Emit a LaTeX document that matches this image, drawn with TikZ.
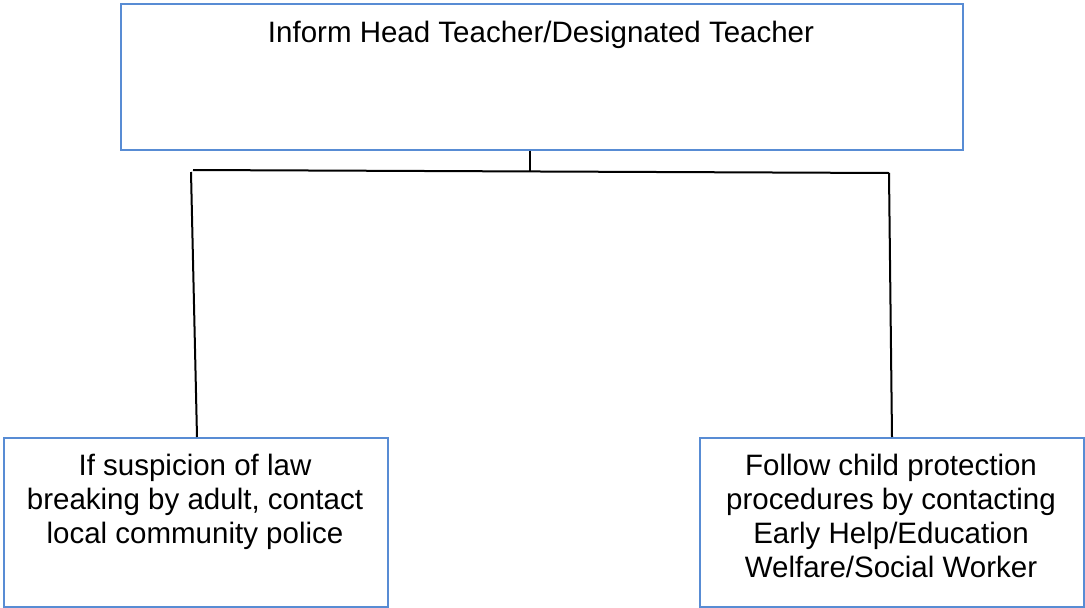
\documentclass[tikz,border=0pt]{standalone}
\usepackage{fontspec}
\setmainfont{Liberation Sans}
\definecolor{boxblue}{RGB}{88,140,212}
\begin{document}
\begin{tikzpicture}[x=1pt,y=-1pt,
  box/.style={draw=boxblue, line width=1.6pt, fill=none, inner sep=0pt, anchor=north west},
  txt/.style={inner sep=0pt, align=center, font=\fontsize{29.5}{34}\selectfont, anchor=base},
  conn/.style={draw=black, line width=2pt}]
\useasboundingbox (0,0) rectangle (1085,608);
\node[box, minimum width=842pt, minimum height=146pt] (top) at (120,3) {};
\node[box, minimum width=384pt, minimum height=169pt] (left) at (3,437) {};
\node[box, minimum width=384pt, minimum height=169pt] (right) at (699,437) {};
\node[txt] (toptext) at (541,42) {Inform Head Teacher/Designated Teacher};
\node[txt] (lefttext) at (195,543) {If suspicion of law\\breaking by adult, contact\\local community police};
\node[txt] (righttext) at (891,577) {Follow child protection\\procedures by contacting\\Early Help/Education\\Welfare/Social Worker};
\coordinate (jc) at (530,171);
\coordinate (jl) at (193,170);
\coordinate (jr) at (889,173);
\coordinate (lt) at (191,172);
\draw[conn] (top.south -| jc) -- (jc);
\draw[conn] (jl) -- (jr);
\draw[conn] (lt) -- (197,437) coordinate (lb);
\draw[conn] (jr) -- (892,437) coordinate (rb);
\end{tikzpicture}
\end{document}
